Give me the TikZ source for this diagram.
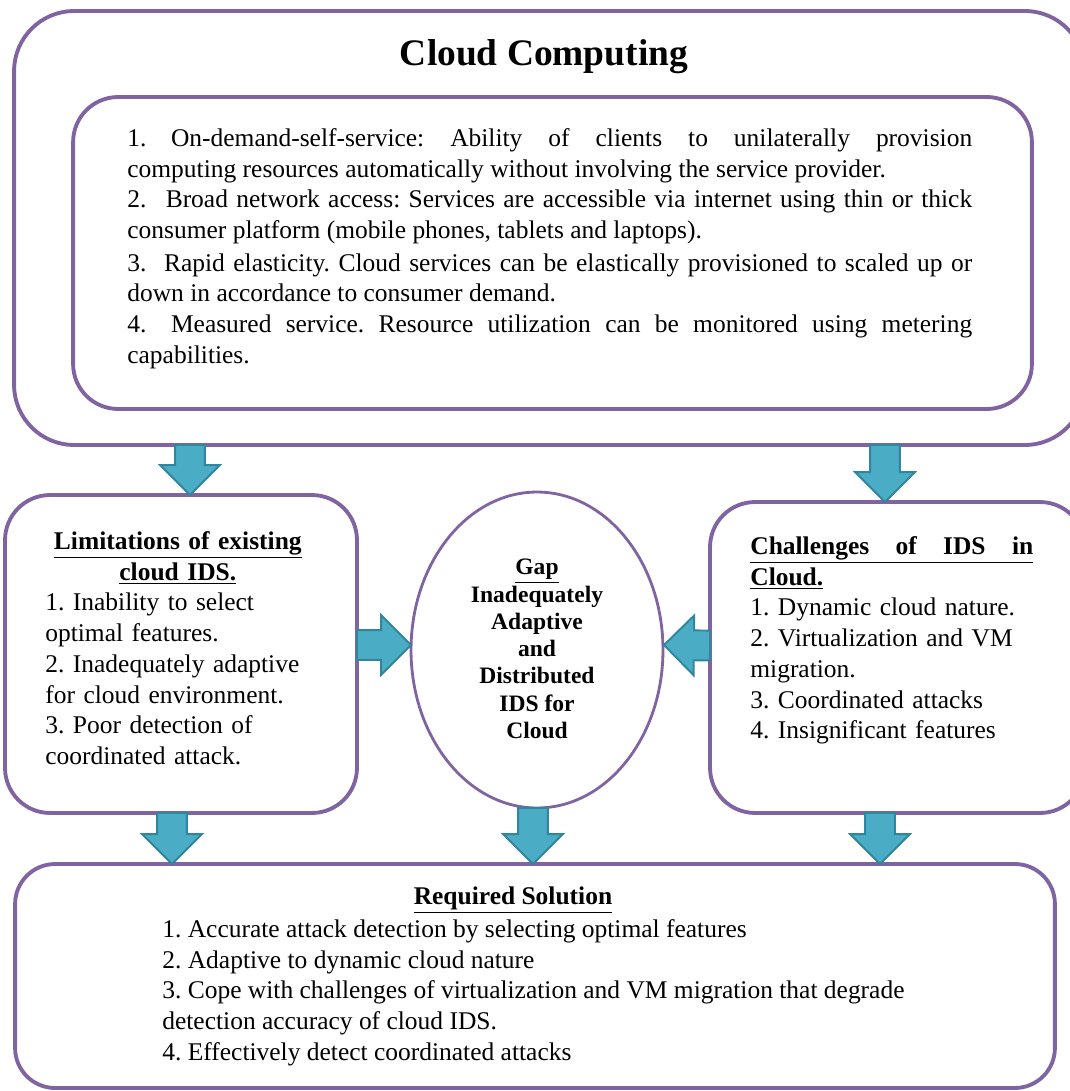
\documentclass[tikz,border=0pt]{standalone}
\usepackage{fontspec}
\setmainfont{Liberation Serif}
\usetikzlibrary{calc,shapes.geometric}

\definecolor{boxpurple}{RGB}{128,100,162}
\definecolor{arrowfill}{RGB}{75,172,198}
\definecolor{arrowedge}{RGB}{49,133,156}

\tikzset{
	roundbox/.style={draw=boxpurple, line width=2.2pt, rounded corners=0.9cm, inner sep=0pt, outer sep=0pt},
	gapellipse/.style={ellipse, draw=boxpurple, line width=1.6pt, inner sep=0pt, outer sep=0pt},
	blockarrow/.style={fill=arrowfill, draw=arrowedge, line width=1.1pt, line join=miter},
	bodytext/.style={inner sep=0pt, font=\fontsize{14.5}{17.5}\selectfont\frenchspacing,
		execute at begin node=\setlength{\parindent}{0pt}},
}

\newcommand{\bigarrow}[2]{%
	\path let \p1=($(#2)-(#1)$) in \pgfextra{%
		\pgfmathsetmacro{\arrowang}{atan2(\y1,\x1)}%
		\pgfmathsetmacro{\arrowlen}{veclen(\x1,\y1)}%
		\xdef\arrowang{\arrowang}\xdef\arrowlen{\arrowlen}};
	\begin{scope}[shift={(#1)}, rotate=\arrowang]
		\draw[blockarrow] (0pt,-8.5pt) -- ({\arrowlen pt-17pt},-8.5pt) -- ({\arrowlen pt-17pt},-17pt)
			-- (\arrowlen pt,0pt) -- ({\arrowlen pt-17pt},17pt) -- ({\arrowlen pt-17pt},8.5pt) -- (0pt,8.5pt) -- cycle;
	\end{scope}}

\begin{document}
\begin{tikzpicture}[x=0.02cm, y=-0.02cm]
	\useasboundingbox (0,0) rectangle (1070,1091);
	\clip (0,0) rectangle (1070,1091);

	\node[roundbox, rounded corners=1.2cm, minimum width=21.42cm, minimum height=8.68cm] (cc) at (549.5,228) {};
	\node[roundbox, minimum width=19.18cm, minimum height=6.24cm] (props) at (552.5,253) {};
	\node[roundbox, minimum width=7.04cm, minimum height=6.36cm] (lim) at (181,654) {};
	\node[gapellipse, minimum width=5.04cm, minimum height=6.32cm] (gap) at (537,650) {};
	\node[roundbox, minimum width=7.5cm, minimum height=6.22cm] (chal) at (897.5,657.5) {};
	\node[roundbox, rounded corners=0.8cm, minimum width=20.8cm, minimum height=4.48cm] (sol) at (535,976) {};

	\node[font=\bfseries\fontsize{21.3}{25}\selectfont] (title) at (544,57) {Cloud Computing};

	\node[bodytext, text width=16.9cm, align=justify, anchor=north west] (propstext) at (127,128) {%
		1.\hspace*{14pt}On-demand-self-service: Ability of clients to unilaterally provision\linebreak
		computing resources automatically without involving the service provider.\par
		2.\hspace*{11pt}Broad network access: Services are accessible via internet using thin or thick\linebreak
		consumer platform (mobile phones, tablets and laptops).\par\vspace{1pt}
		3.\hspace*{10pt}Rapid elasticity. Cloud services can be elastically provisioned to scaled up or\linebreak
		down in accordance to consumer demand.\par
		4.\hspace*{14pt}Measured service. Resource utilization can be monitored using metering\linebreak
		capabilities.};

	\node[bodytext, text width=5.3cm, align=left, anchor=north west] (limtext) at (45,531) {%
		\makebox[\linewidth]{\bfseries\underline{Limitations of existing}}\\
		\makebox[\linewidth]{\bfseries\underline{cloud IDS.}}\\
		1. Inability to select\\
		optimal features.\\
		2. Inadequately adaptive\\
		for cloud environment.\\
		3. Poor detection of\\
		coordinated attack.};

	\node[font=\bfseries\fontsize{13.4}{15.5}\selectfont, align=center] (gaptext) at (537,649) {%
		\underline{Gap}\\Inadequately\\Adaptive\\and\\Distributed\\IDS for\\Cloud};

	\node[bodytext, text width=5.66cm, align=left, anchor=north west] (chaltext) at (750,536) {%
		\underline{\makebox[\linewidth]{\bfseries Challenges\hfill of\hfill IDS\hfill in}}\\
		\textbf{\underline{Cloud.}}\\
		1. Dynamic cloud nature.\\
		2. Virtualization and VM\\
		migration.\\
		3. Coordinated attacks\\
		4. Insignificant features};

	\node[font=\bfseries\fontsize{14.5}{17.5}\selectfont] (soltitle) at (513,900) {\underline{Required Solution}};
	\node[bodytext, align=left, anchor=north west] (soltext) at (162,919) {%
		1. Accurate attack detection by selecting optimal features\\
		2. Adaptive to dynamic cloud nature\\
		3. Cope with challenges of virtualization and VM migration that degrade\\
		detection accuracy of cloud IDS.\\
		4. Effectively detect coordinated attacks};

	\coordinate (cc-lim) at ($(cc.south -| lim.north)+(9,0)$);
	\coordinate (lim-in) at ($(lim.north)+(9,0)$);
	\coordinate (cc-chal) at ($(cc.south -| chal.north)+(-12.5,0)$);
	\coordinate (chal-in) at ($(chal.north)+(-12.5,0)$);
	\coordinate (lim-sol) at ($(lim.south)+(-9,0)$);
	\coordinate (sol-l) at ($(sol.north -| lim.south)+(-9,0)$);
	\coordinate (gap-sol) at ($(gap.south)+(-4,0)$);
	\coordinate (sol-m) at ($(sol.north -| gap.south)+(-4,0)$);
	\coordinate (chal-sol) at ($(chal.south)+(-17.5,0)$);
	\coordinate (sol-r) at ($(sol.north -| chal.south)+(-17.5,0)$);
	\coordinate (lim-gap) at ($(lim.east)+(0,-9)$);
	\coordinate (gap-l) at (411,645);
	\coordinate (chal-gap) at ($(chal.west)+(0,-12)$);
	\coordinate (gap-r) at (664,645);

	\bigarrow{cc-lim}{lim-in}
	\bigarrow{cc-chal}{chal-in}
	\bigarrow{lim-sol}{sol-l}
	\bigarrow{gap-sol}{sol-m}
	\bigarrow{chal-sol}{sol-r}
	\bigarrow{lim-gap}{gap-l}
	\bigarrow{chal-gap}{gap-r}
\end{tikzpicture}
\end{document}
